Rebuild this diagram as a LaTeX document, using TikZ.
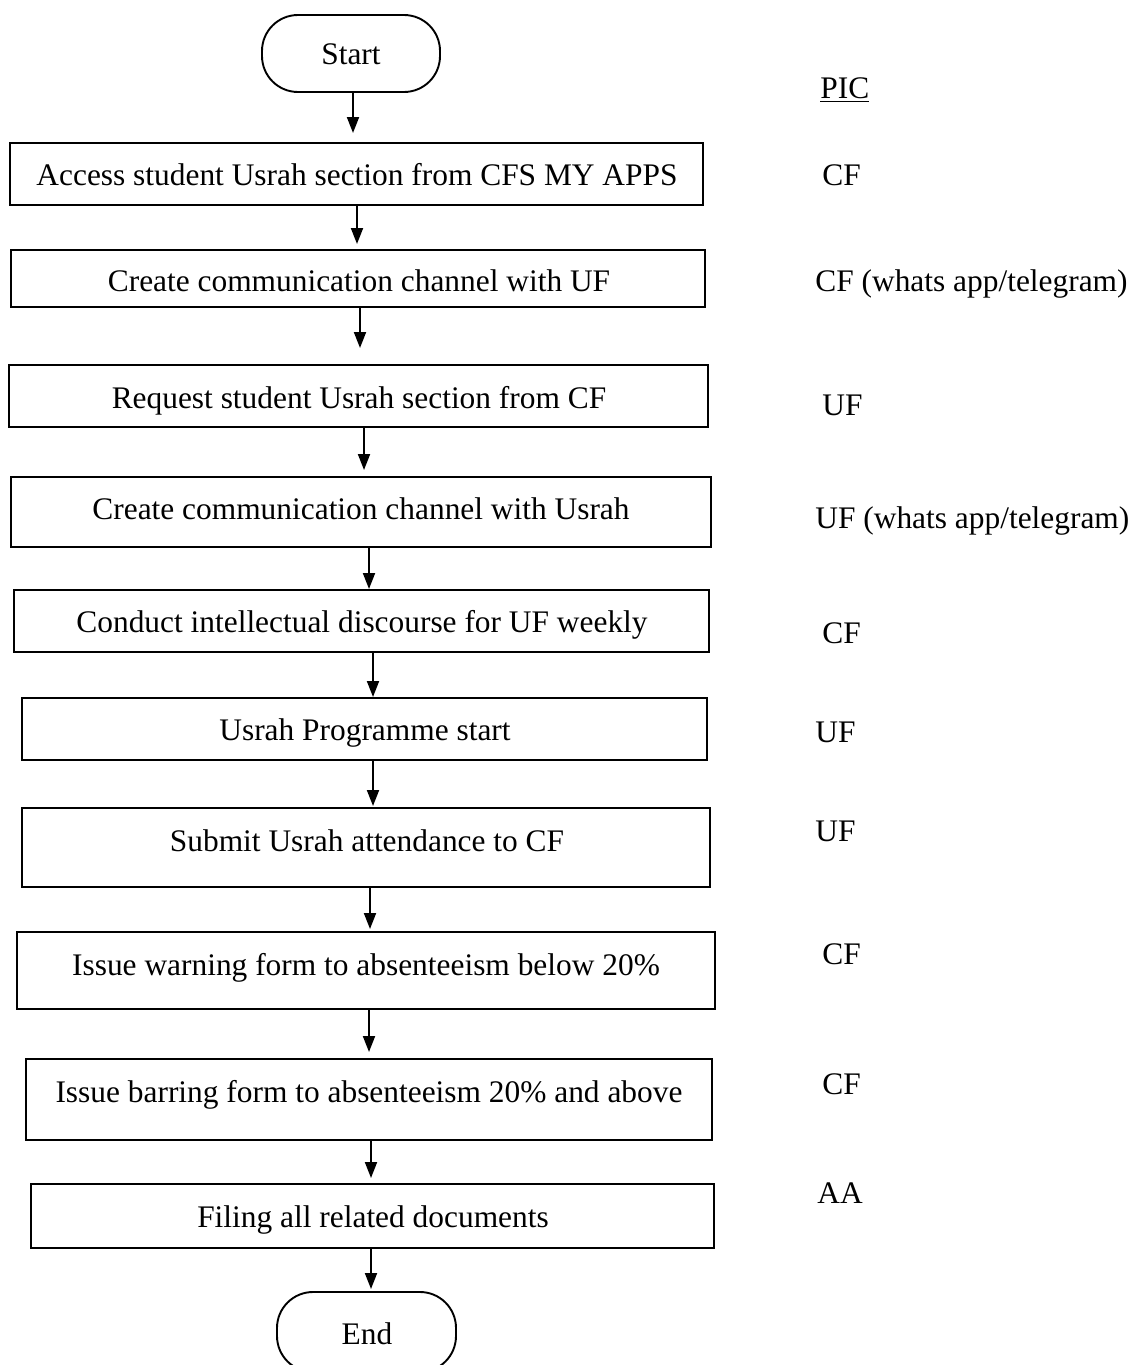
\documentclass[tikz,border=0pt]{standalone}
\usepackage{fontspec}
\setmainfont{Liberation Serif}
\usetikzlibrary{arrows.meta,fit}
\begin{document}
\begin{tikzpicture}[x=0.5pt,y=-0.5pt,
  font=\fontsize{15.7pt}{19pt}\selectfont,
  stepbox/.style={draw, line width=0.95pt, inner sep=0pt},
  termbox/.style={draw, line width=0.95pt, inner sep=0pt, rounded corners=18pt},
  txt/.style={anchor=base, inner sep=0pt},
  pic/.style={anchor=base west, inner sep=0pt},
  arr/.style={line width=0.95pt, -{Triangle[length=8pt,width=6pt]}}
]
\useasboundingbox (0,0) rectangle (1147,1365);

% flow steps
\node[termbox, fit={(262,15) (440,92)}] (start) {};
\node[txt] (tstart) at (351,64) {Start};

\node[stepbox, fit={(10,143) (703,205)}] (b1) {};
\node[txt] (t1) at (357,185) {Access student Usrah section from CFS MY APPS};

\node[stepbox, fit={(11,250) (705,307)}] (b2) {};
\node[txt] (t2) at (359,291) {Create communication channel with UF};

\node[stepbox, fit={(9,365) (708,427)}] (b3) {};
\node[txt] (t3) at (359,408) {Request student Usrah section from CF};

\node[stepbox, fit={(11,477) (711,547)}] (b4) {};
\node[txt] (t4) at (361,519) {Create communication channel with Usrah};

\node[stepbox, fit={(14,590) (709,652)}] (b5) {};
\node[txt] (t5) at (362,632) {Conduct intellectual discourse for UF weekly};

\node[stepbox, fit={(22,698) (707,760)}] (b6) {};
\node[txt] (t6) at (365,740) {Usrah Programme start};

\node[stepbox, fit={(22,808) (710,887)}] (b7) {};
\node[txt] (t7) at (367,851) {Submit Usrah attendance to CF};

\node[stepbox, fit={(17,932) (715,1009)}] (b8) {};
\node[txt] (t8) at (366,975) {Issue warning form to absenteeism below 20\%};

\node[stepbox, fit={(26,1059) (712,1140)}] (b9) {};
\node[txt] (t9) at (369,1102) {Issue barring form to absenteeism 20\% and above};

\node[stepbox, fit={(31,1184) (714,1248)}] (b10) {};
\node[txt] (t10) at (373,1227) {Filing all related documents};

\node[termbox, fit={(277,1292) (456,1372)}] (end) {};
\node[txt] (tend) at (367,1344) {End};

% connectors
\draw[arr] (start.south -| 353,0) -- (353,133);
\draw[arr] (b1.south -| 357,0) -- (357,244);
\draw[arr] (b2.south -| 360,0) -- (360,348);
\draw[arr] (b3.south -| 364,0) -- (364,470);
\draw[arr] (b4.south -| 369,0) -- (369,589);
\draw[arr] (b5.south -| 373,0) -- (373,697);
\draw[arr] (b6.south -| 373,0) -- (373,806);
\draw[arr] (b7.south -| 370,0) -- (370,929);
\draw[arr] (b8.south -| 369,0) -- (369,1052);
\draw[arr] (b9.south -| 371,0) -- (371,1178);
\draw[arr] (b10.south -| 371,0) -- (371,1289);

% persons in charge
\node[pic] (h) at (820,98) {\underline{PIC}};
\node[pic] (p1) at (822,185) {CF};
\node[pic] (p2) at (815,291) {CF (whats app/telegram)};
\node[pic] (p3) at (822,415) {UF};
\node[pic] (p4) at (815,528) {UF (whats app/telegram)};
\node[pic] (p5) at (822,643) {CF};
\node[pic] (p6) at (815,742) {UF};
\node[pic] (p7) at (815,841) {UF};
\node[pic] (p8) at (822,964) {CF};
\node[pic] (p9) at (822,1094) {CF};
\node[pic] (p10) at (817,1203) {AA};
\end{tikzpicture}
\end{document}
